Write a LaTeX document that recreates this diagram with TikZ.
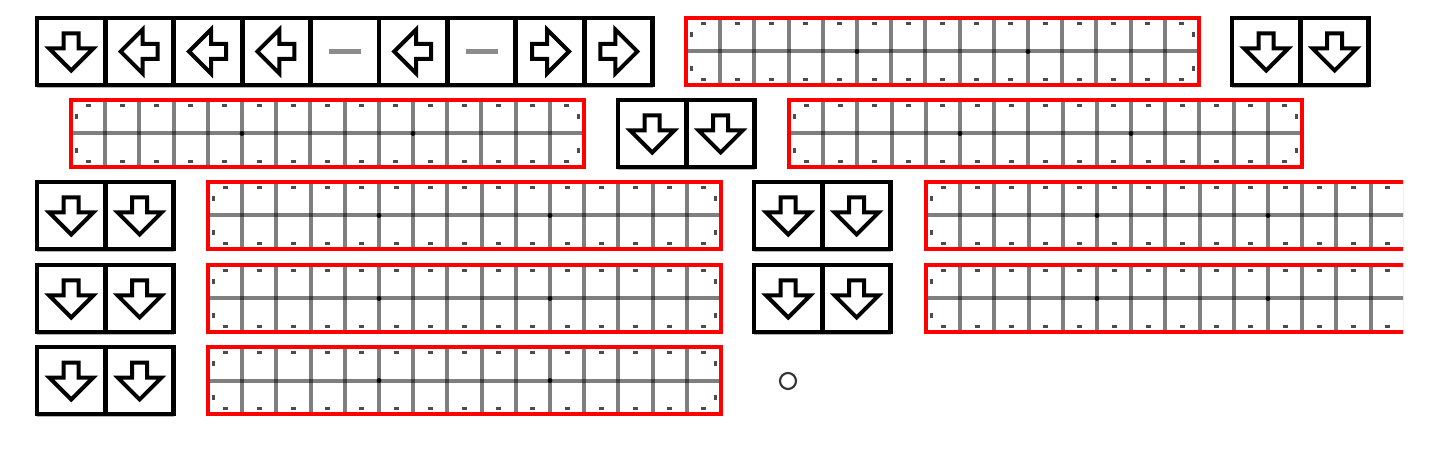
\documentclass[tikz,border=0pt]{standalone}
\begin{document}
\begin{tikzpicture}[x=0.75pt,y=-0.75pt]
\tikzset{
 keybox/.style={draw=black, line width=3.6pt},
 keyshade/.style={draw=black, draw opacity=0.3, line width=2pt},
 redbox/.style={draw=red, line width=3.4pt},
 gridline/.style={draw=black, draw opacity=0.5, line width=3pt},
 gtick/.style={draw=black, draw opacity=0.7, line width=2pt},
 arrowshape/.style={draw=black, fill=white, line width=3pt, line join=miter},
 blank/.style={draw=black, draw opacity=0.45, line width=3.4pt},
 ring/.style={draw=black!80, line width=1.6pt},
}
\newcommand\KeyArrow[3]{%
 \begin{scope}[shift={(#1,#2)},rotate=#3]
  \draw[arrowshape] (-7.5,-18) -- (7.5,-18) -- (7.5,-3) -- (22,-3) -- (0,19) -- (-22,-3) -- (-7.5,-3) -- cycle;
 \end{scope}}
\newcommand\KeyBlank[2]{\draw[blank] (#1-16,#2) -- (#1+16,#2);}
\newcommand\KeyBoxes[3]{% left, top, cells
 \draw[keyshade] (#1,#2+68.8) -- (#1+#3*68.4,#2+68.8);
 \draw[keybox] (#1,#2) rectangle (#1+#3*68.4,#2+67);
 \foreach \k in {1,...,\numexpr#3-1\relax} \draw[keybox] (#1+\k*68.4,#2) -- (#1+\k*68.4,#2+67);}
\newcommand\RedGrid[3]{% left, top, clip right
 \begin{scope}
  \clip (#1-5,#2-5) rectangle (#3,#2+72);
  \foreach \k in {1,...,14} \draw[gridline] (#1+\k*34.2,#2) -- (#1+\k*34.2,#2+67);
  \draw[gridline] (#1,#2+33.5) -- (#1+513,#2+33.5);
  \foreach \k in {5,10} \fill[black] (#1+\k*34.2,#2+33.5) circle (2.4);
  \foreach \k in {0,...,14} {
   \draw[gtick] (#1+\k*34.2+14.6,#2+5.5) -- ++(5,0);
   \draw[gtick] (#1+\k*34.2+14.6,#2+61.5) -- ++(5,0);}
  \foreach \yy in {16.75,50.25} {
   \draw[gtick] (#1+5.5,#2+\yy-2.5) -- ++(0,5);
   \draw[gtick] (#1+507.5,#2+\yy-2.5) -- ++(0,5);}
  \draw[redbox] (#1,#2) rectangle (#1+513,#2+67);
 \end{scope}}
\useasboundingbox (0,0) rectangle (1442,470);
% row 1
\KeyBoxes{37}{18}{9}
\KeyArrow{71.2}{51.5}{0}
\KeyArrow{139.6}{51.5}{-90}
\KeyArrow{208}{51.5}{-90}
\KeyArrow{276.4}{51.5}{-90}
\KeyBlank{344.8}{51.5}
\KeyArrow{413.2}{51.5}{-90}
\KeyBlank{481.6}{51.5}
\KeyArrow{550}{51.5}{90}
\KeyArrow{618.4}{51.5}{90}
\RedGrid{686}{18}{1210}
\KeyBoxes{1232}{18}{2}
\KeyArrow{1266.2}{51.5}{0}
\KeyArrow{1334.6}{51.5}{0}
% row 2
\RedGrid{71}{100}{595}
\KeyBoxes{618}{100}{2}
\KeyArrow{652.2}{133.5}{0}
\KeyArrow{720.6}{133.5}{0}
\RedGrid{789}{100}{1313}
% rows 3-5
\foreach \ty in {182,265,347} {
 \KeyBoxes{37}{\ty}{2}
 \KeyArrow{71.2}{\ty+33.5}{0}
 \KeyArrow{139.6}{\ty+33.5}{0}
 \RedGrid{208}{\ty}{732}
}
\foreach \ty in {182,265} {
 \KeyBoxes{754}{\ty}{2}
 \KeyArrow{788.2}{\ty+33.5}{0}
 \KeyArrow{856.6}{\ty+33.5}{0}
 \RedGrid{926}{\ty}{1403}
}
\draw[ring] (788,381) circle (8);
\end{tikzpicture}
\end{document}
